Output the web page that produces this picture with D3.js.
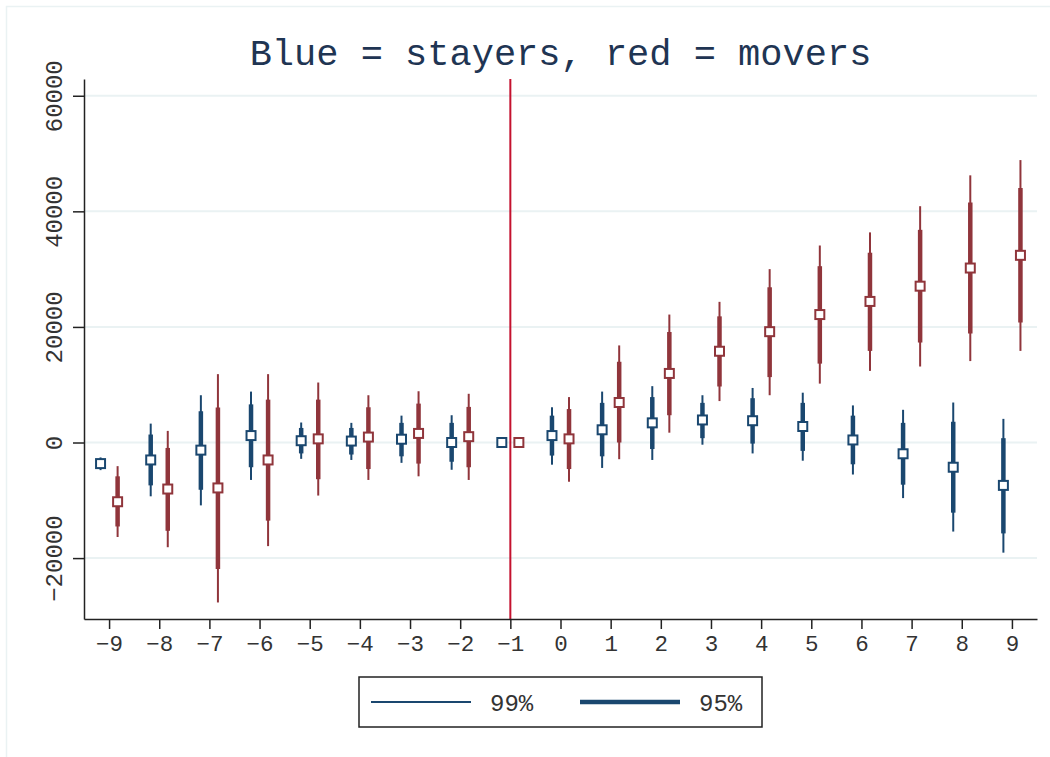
<!DOCTYPE html>
<html>
<head>
<meta charset="utf-8">
<script src="https://cdn.jsdelivr.net/npm/d3@7"></script>
<style>
  html, body { margin: 0; padding: 0; background: #fff; }
  svg { display: block; font-family: "Liberation Mono", "DejaVu Sans Mono", monospace; }
</style>
</head>
<body>
<svg id="chart" width="1050" height="757"></svg>
<script>
// Event time (years relative to move)
const periods = [-9, -8, -7, -6, -5, -4, -3, -2, -1, 0, 1, 2, 3, 4, 5, 6, 7, 8, 9]

// Stayers (blue): point estimate, 95% and 99% bounds
const stayEst  = [-3650, -3020, -1320, 1200, 310, 250, 570, 0, 0, 1200, 2200, 3400, 3900, 3770, 2770, 440, -1950, -4280, -7420]
const stayLo95 = [-4400, -7420, -8180, -4280, -1890, -2080, -2390, -3330, 0, -2260, -2390, -1130, 750, -190, -1450, -3770, -7300, -12140, -15730]
const stayHi95 = [-2900, 1380, 5410, 6600, 2520, 2520, 3400, 3400, 0, 4650, 6860, 7860, 6860, 7670, 6860, 4650, 3400, 3590, 750]
const stayLo99 = [-4780, -9310, -10880, -6480, -2830, -3020, -3520, -4720, 0, -3840, -4400, -3020, -380, -1890, -3150, -5540, -9620, -15410, -19060]
const stayHi99 = [-2580, 3270, 8180, 8810, 3460, 3400, 4650, 4720, 0, 6100, 8810, 9750, 8180, 9440, 8620, 6420, 5660, 6920, 4090]

// Movers (red)
const moveEst  = [-10250, -8050, -7860, -3020, 630, 940, 1570, 1010, 0, 630, 6920, 11950, 15790, 19180, 22140, 24410, 27050, 30190, 32390]
const moveLo95 = [-14530, -15280, -21890, -13520, -6350, -4590, -3650, -4280, 0, -4590, 0, 4720, 9690, 11320, 13650, 15850, 17300, 18870, 20760]
const moveHi95 = [-5850, -940, 6040, 7420, 7420, 6100, 6730, 6160, 0, 5790, 13970, 19120, 21830, 26860, 30510, 32840, 36800, 41510, 44030]
const moveLo99 = [-16350, -18120, -27680, -17930, -9180, -6480, -5850, -6480, 0, -6790, -2890, 1700, 7170, 8180, 10190, 12390, 13150, 14090, 15850]
const moveHi99 = [-4090, 2010, 11830, 11830, 10380, 8180, 8870, 8430, 0, 7860, 16800, 22140, 24340, 30000, 34090, 36360, 40890, 46230, 48870]

const yTicks = [-20000, 0, 20000, 40000, 60000]
const refLine = -1
const title = 'Blue = stayers, red = movers'
const legendLabels = ['99%', '95%']

const blue = '#1a476f'
const red = '#90353b'
const gridColor = '#eaf2f3'

const svg = d3.select('#chart')

const plot = { left: 84, right: 1037, top: 79, bottom: 619 }

const x = d3.scaleLinear().domain([-9.5, 9.5]).range([plot.left, plot.right])
const y = d3.scaleLinear().domain([-30540, 62900]).range([plot.bottom, plot.top])

// outer graph region border
svg.append('rect')
  .attr('x', 6.5).attr('y', 6.5)
  .attr('width', 1100).attr('height', 800)
  .attr('fill', '#fff')
  .attr('stroke', gridColor)
  .attr('stroke-width', 1.5)

// title
svg.append('text')
  .attr('x', (plot.left + plot.right) / 2)
  .attr('y', 65)
  .attr('text-anchor', 'middle')
  .attr('font-size', 37)
  .attr('fill', '#1f3553')
  .text(title)

// gridlines
svg.append('g')
  .selectAll('line')
  .data(yTicks)
  .enter()
  .append('line')
    .attr('x1', plot.left).attr('x2', plot.right)
    .attr('y1', d => y(d)).attr('y2', d => y(d))
    .attr('stroke', gridColor)
    .attr('stroke-width', 2)

// reference line at t = -1
svg.append('line')
  .attr('x1', x(refLine)).attr('x2', x(refLine))
  .attr('y1', plot.top).attr('y2', plot.bottom)
  .attr('stroke', '#c4122f')
  .attr('stroke-width', 2)

// axes
const xAxis = d3.axisBottom(x)
  .tickValues(periods)
  .tickFormat(d3.format('d'))
  .tickSize(10)
  .tickSizeOuter(0)
  .tickPadding(6)

const yAxis = d3.axisLeft(y)
  .tickValues(yTicks)
  .tickFormat(d3.format('d'))
  .tickSize(11)
  .tickSizeOuter(0)

const gx = svg.append('g')
  .attr('transform', 'translate(0,' + plot.bottom + ')')
  .call(xAxis)
gx.select('.domain').attr('stroke', '#222').attr('stroke-width', 1.5)
gx.selectAll('.tick line').attr('stroke', '#222').attr('stroke-width', 1.5)
gx.selectAll('.tick text')
  .attr('font-family', '"Liberation Mono", monospace')
  .attr('font-size', 22.5)
  .attr('fill', '#333')

const gy = svg.append('g')
  .attr('transform', 'translate(' + plot.left + ',0)')
  .call(yAxis)
gy.select('.domain').attr('stroke', '#222').attr('stroke-width', 1.5)
gy.selectAll('.tick line').attr('stroke', '#222').attr('stroke-width', 1.5)
gy.selectAll('.tick text')
  .attr('font-family', '"Liberation Mono", monospace')
  .attr('font-size', 24)
  .attr('fill', '#333')
  .attr('text-anchor', 'middle')
  .attr('dy', 0)
  .attr('x', 0)
  .attr('transform', 'translate(-22,0) rotate(-90)')

// build series rows
const series = [
  { color: blue, offset: -0.17, est: stayEst, lo95: stayLo95, hi95: stayHi95, lo99: stayLo99, hi99: stayHi99 },
  { color: red,  offset:  0.17, est: moveEst, lo95: moveLo95, hi95: moveHi95, lo99: moveLo99, hi99: moveHi99 }
]

series.forEach(s => {
  const rows = periods.map((p, i) => ({
    t: p + s.offset,
    est: s.est[i], lo95: s.lo95[i], hi95: s.hi95[i], lo99: s.lo99[i], hi99: s.hi99[i]
  }))

  const g = svg.append('g')

  g.selectAll('line.ci99')
    .data(rows.filter(d => d.hi99 !== d.lo99))
    .enter()
    .append('line')
      .attr('class', 'ci99')
      .attr('x1', d => x(d.t)).attr('x2', d => x(d.t))
      .attr('y1', d => y(d.lo99)).attr('y2', d => y(d.hi99))
      .attr('stroke', s.color)
      .attr('stroke-width', 2)

  g.selectAll('line.ci95')
    .data(rows.filter(d => d.hi95 !== d.lo95))
    .enter()
    .append('line')
      .attr('class', 'ci95')
      .attr('x1', d => x(d.t)).attr('x2', d => x(d.t))
      .attr('y1', d => y(d.lo95)).attr('y2', d => y(d.hi95))
      .attr('stroke', s.color)
      .attr('stroke-width', 4.5)

  g.selectAll('rect')
    .data(rows)
    .enter()
    .append('rect')
      .attr('x', d => x(d.t) - 4.5)
      .attr('y', d => y(d.est) - 4.5)
      .attr('width', 9)
      .attr('height', 9)
      .attr('fill', '#fff')
      .attr('stroke', s.color)
      .attr('stroke-width', 2)
})

// legend
const legend = svg.append('g').attr('transform', 'translate(359,677)')
legend.append('rect')
  .attr('width', 403).attr('height', 50)
  .attr('fill', '#fff')
  .attr('stroke', '#222')
  .attr('stroke-width', 1.5)

const legendItems = legend.selectAll('g.item')
  .data(legendLabels)
  .enter()
  .append('g')
    .attr('class', 'item')
    .attr('transform', (d, i) => 'translate(' + (12 + i * 209) + ',25)')

legendItems.append('line')
  .attr('x1', 0).attr('x2', 100)
  .attr('stroke', blue)
  .attr('stroke-width', (d, i) => i === 0 ? 2 : 4.5)

legendItems.append('text')
  .attr('x', 119)
  .attr('y', 9)
  .attr('font-size', 24)
  .attr('fill', '#333')
  .text(d => d)
</script>
</body>
</html>
